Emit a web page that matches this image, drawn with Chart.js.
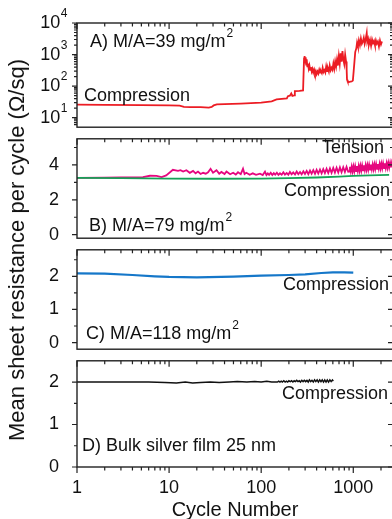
<!DOCTYPE html>
<html>
<head>
<meta charset="utf-8">
<script src="https://cdn.jsdelivr.net/npm/chart.js@4.4.0/dist/chart.umd.min.js"></script>
<style>
  html, body { margin: 0; padding: 0; background: #fff; }
  #wrap { position: relative; width: 392px; height: 519px; overflow: hidden; font-family: "Liberation Sans", Arial, sans-serif; }
  #wrap canvas { position: absolute; left: 0; }
  #ytitle {
    position: absolute; left: 17px; top: 250px;
    transform: translate(-50%, -50%) rotate(-90deg);
    white-space: nowrap; font-size: 22px; color: #111;
  }
</style>
</head>
<body>
<div id="wrap">
  <canvas id="panelA" width="400" height="148" style="top:0px"></canvas>
  <canvas id="panelB" width="400" height="141" style="top:118px"></canvas>
  <canvas id="panelC" width="400" height="141" style="top:229px"></canvas>
  <canvas id="panelD" width="400" height="185" style="top:340px"></canvas>
  <div id="ytitle">Mean sheet resistance per cycle (Ω/sq)</div>
</div>
<script>
// ---- data ----
const xTickValues = [1, 10, 100, 1000];
const aTickValues = [10, 100, 1000, 10000];
const aTickExps = ['1', '2', '3', '4'];
const bTickValues = [0, 2, 4];
const cTickValues = [0, 1, 2];
const dTickValues = [0, 1, 2];

// A) M/A=39 mg/m2, compression (red)
const aCycles = [1, 2, 5, 10, 13, 14.5, 17, 22, 27, 29,
  30.5, 33, 40, 60, 100, 130, 147, 190, 195, 205,
  212, 218, 228, 232, 260, 285, 292, 296, 300, 304,
  308, 312, 317, 322, 328, 334, 340, 347, 354, 361,
  368, 376, 384, 392, 400, 409, 418, 427, 436, 445,
  455, 465, 475, 486, 497, 508, 519, 531, 543, 555,
  568, 581, 594, 608, 622, 636, 651, 666, 681, 697,
  713, 729, 746, 763, 780, 798, 816, 835, 847, 855,
  870, 900, 930, 960, 990, 1010, 1030, 1050, 1080, 1100,
  1125, 1150, 1180, 1210, 1240, 1270, 1300, 1330, 1360, 1400,
  1420, 1450, 1480, 1520, 1560, 1600, 1640, 1680, 1720, 1760,
  1800, 1850, 1900, 1950, 2000, 2050];
const aValues = [26, 25.5, 25, 24.5, 24, 22, 21.5, 21.5, 21, 22,
  24.5, 26.5, 27, 28, 30, 33, 38, 41, 48, 50,
  59, 49, 51, 70, 71, 73, 750, 900, 560, 820,
  480, 700, 420, 520, 360, 450, 330, 400, 290, 350,
  270, 330, 250, 300, 240, 290, 250, 330, 270, 300,
  260, 380, 280, 320, 270, 420, 300, 360, 290, 450,
  320, 380, 330, 520, 360, 600, 420, 700, 450, 900,
  520, 1100, 600, 1300, 700, 500, 1000, 600, 350, 160,
  140, 135, 138, 140, 150, 300, 600, 1200, 1600, 2400,
  1800, 2800, 2000, 3200, 2200, 2600, 3400, 2200, 2900, 4800,
  2500, 3100, 2100, 2900, 1900, 3000, 2300, 2700, 2000, 2800,
  2200, 2600, 1800, 2800, 2100, 2600];

// B) M/A=79 mg/m2, tension (magenta)
const bTensionCycles = [1, 2, 3, 4.5, 5.2, 6.2, 7.3, 8.3, 9.3, 11,
  12.5, 13.3, 14.2, 15.4, 16.8, 18.2, 19.4, 20.6, 22, 23.4,
  25, 26.5, 28.2, 30, 32.7, 35, 37, 40, 42, 46,
  49.6, 53, 56, 60, 63.5, 66, 69, 75, 81, 88,
  97, 104, 110, 114, 118, 122, 127, 132, 137, 142,
  148, 154, 160, 167, 174, 181, 189, 197, 205, 214,
  223, 233, 243, 253, 264, 275, 287, 299, 312, 325,
  339, 353, 368, 384, 400, 417, 435, 453, 472, 492,
  513, 535, 558, 581, 606, 632, 659, 687, 716, 746,
  778, 811, 845, 881, 900, 920, 940, 961, 982, 1004,
  1026, 1049, 1072, 1096, 1120, 1145, 1170, 1196, 1222, 1249,
  1277, 1305, 1334, 1363, 1393, 1424, 1455, 1487, 1520, 1554,
  1588, 1623, 1659, 1696, 1733, 1771, 1810, 1850, 1891, 1933,
  1976, 2019, 2064, 2109, 2156, 2203, 2252, 2302, 2353, 2404,
  2457, 2512, 2567, 2624, 2700];
const bTensionValues = [3.26, 3.27, 3.28, 3.29, 3.30, 3.38, 3.37, 3.30, 3.40, 3.72,
  3.66, 3.70, 3.62, 3.70, 3.55, 3.66, 3.52, 3.62, 3.48, 3.55,
  3.50, 3.58, 3.78, 3.55, 3.70, 3.50, 3.60, 3.48, 3.62, 3.47,
  3.55, 3.45, 3.58, 3.47, 3.78, 3.48, 3.55, 3.44, 3.52, 3.43,
  3.50, 3.42, 3.62, 3.42, 3.52, 3.43, 3.55, 3.42, 3.53, 3.44,
  3.56, 3.43, 3.52, 3.44, 3.58, 3.45, 3.54, 3.44, 3.60, 3.46,
  3.57, 3.45, 3.62, 3.47, 3.60, 3.46, 3.64, 3.48, 3.66, 3.47,
  3.68, 3.50, 3.70, 3.49, 3.72, 3.51, 3.74, 3.52, 3.76, 3.53,
  3.78, 3.54, 3.80, 3.55, 3.83, 3.56, 3.84, 3.57, 3.86, 3.58,
  3.87, 3.60, 3.89, 3.61, 3.62, 3.90, 3.63, 3.91, 3.63, 3.92,
  3.64, 3.93, 3.65, 3.94, 3.66, 3.95, 3.67, 3.96, 3.68, 3.97,
  3.69, 3.98, 3.71, 3.99, 3.72, 4.00, 3.73, 4.01, 3.74, 4.02,
  3.75, 4.03, 3.76, 4.04, 3.77, 4.05, 3.78, 4.06, 3.79, 4.07,
  3.80, 4.08, 3.81, 4.09, 3.82, 4.10, 3.83, 4.11, 3.84, 4.12,
  3.85, 4.13, 3.86, 4.14, 3.87];

// B) compression (green)
const bCompCycles = [1, 3, 10, 30, 100, 200, 400, 700, 1000, 1500, 2450];
const bCompValues = [3.26, 3.25, 3.22, 3.21, 3.22, 3.24, 3.28, 3.33, 3.37, 3.40, 3.43];

// C) M/A=118 mg/m2, compression (blue)
const cCycles = [1, 2, 4, 7, 10, 20, 50, 100, 200, 300, 450, 600, 800, 1000];
const cValues = [2.09, 2.08, 2.04, 2.00, 1.98, 1.97, 1.99, 2.02, 2.04, 2.06, 2.10, 2.12, 2.12, 2.11];

// D) bulk silver film 25 nm, compression (black)
const dCycles = [1, 3, 6, 9, 12, 15, 18, 22, 28, 35,
  45, 55, 70, 85, 100, 115, 130, 150, 155, 160,
  165, 170, 176, 182, 188, 194, 200, 207, 214, 221,
  228, 235, 243, 251, 259, 267, 276, 285, 294, 304,
  314, 324, 334, 345, 356, 368, 380, 392, 405, 418,
  432, 446, 460, 475, 490, 506, 522, 539, 557, 575,
  594, 607];
const dValues = [2.00, 2.00, 2.00, 1.99, 1.98, 2.00, 1.98, 1.99, 2.00, 1.99,
  2.00, 2.01, 2.00, 2.01, 2.00, 2.02, 2.00, 2.00, 2.02, 2.00,
  2.02, 2.00, 2.03, 2.00, 2.02, 2.00, 2.03, 2.01, 2.03, 2.00,
  2.03, 2.01, 2.04, 2.01, 2.03, 2.00, 2.04, 2.01, 2.04, 2.01,
  2.04, 2.00, 2.05, 2.01, 2.04, 2.00, 2.05, 2.01, 2.05, 2.00,
  2.05, 2.01, 2.05, 2.00, 2.05, 2.00, 2.05, 2.00, 2.05, 2.01,
  2.05, 2.02];

// ---- drawing ----
const FONT = '"Liberation Sans", Arial, sans-serif';
Chart.defaults.font.family = FONT;
Chart.defaults.color = '#111';

function pts(xs, ys) {
  return xs.map((x, i) => ({ x: x, y: ys[i] }));
}

function line(xs, ys, color, width) {
  return {
    data: pts(xs, ys), borderColor: color, borderWidth: width,
    pointRadius: 0, tension: 0, fill: false
  };
}

const xMinor = [];
[1, 10, 100, 1000].forEach(d => {
  for (let m = 2; m <= 9; m++) if (d * m <= 2700) xMinor.push(d * m);
});
const aMinor = [];
[1, 10, 100, 1000].forEach(d => {
  for (let m = 2; m <= 9; m++) if (d * m >= 5) aMinor.push(d * m);
});

// frame, tick marks and text notes for one panel
function framePlugin(opt) {
  return {
    id: 'frame' + opt.name,
    afterDraw(chart) {
      const ctx = chart.ctx;
      const a = chart.chartArea;
      const xs = chart.scales.x, ys = chart.scales.y;
      ctx.save();
      ctx.strokeStyle = '#222';
      ctx.lineWidth = 1.4;
      ctx.strokeRect(a.left, a.top, a.right - a.left, a.bottom - a.top);
      ctx.lineWidth = 1.2;
      ctx.beginPath();
      const vtick = (px, y0, len) => { ctx.moveTo(px, y0); ctx.lineTo(px, y0 + len); };
      xTickValues.forEach(v => {
        const px = xs.getPixelForValue(v);
        vtick(px, a.top, 6);
        if (opt.bottomTicks) vtick(px, a.bottom, 6);
      });
      xMinor.forEach(v => {
        const px = xs.getPixelForValue(v);
        vtick(px, a.top, 3.5);
        if (opt.bottomTicks) vtick(px, a.bottom, 3.5);
      });
      const htick = (py, len) => {
        ctx.moveTo(a.left - len, py); ctx.lineTo(a.left, py);
        ctx.moveTo(a.right - len, py); ctx.lineTo(a.right, py);
      };
      opt.yMajor.forEach(v => htick(ys.getPixelForValue(v), 5));
      opt.yMinor.forEach(v => {
        const py = ys.getPixelForValue(v);
        if (py > a.top + 0.5 && py < a.bottom - 0.5) htick(py, 3);
      });
      ctx.stroke();

      ctx.fillStyle = '#111';
      ctx.textBaseline = 'middle';
      if (opt.logLabels) {
        opt.yMajor.forEach((v, i) => {
          const py = ys.getPixelForValue(v);
          ctx.font = '18px ' + FONT;
          const w1 = ctx.measureText('10').width;
          ctx.font = '12px ' + FONT;
          const w2 = ctx.measureText(aTickExps[i]).width;
          const x0 = a.left - 10 - w1 - w2;
          ctx.font = '18px ' + FONT;
          ctx.textAlign = 'left';
          ctx.fillText('10', x0, py);
          ctx.font = '12px ' + FONT;
          ctx.fillText(aTickExps[i], x0 + w1 + 0.5, py - 9);
        });
      }
      ctx.textAlign = 'left';
      opt.notes.forEach(n => {
        const y = n.y - opt.top;
        ctx.font = '18px ' + FONT;
        ctx.fillText(n.text, n.x, y);
        if (n.sup) {
          const w = ctx.measureText(n.text).width;
          ctx.font = '12px ' + FONT;
          ctx.fillText(n.sup, n.x + w + 1, y - 8);
        }
      });
      ctx.restore();
    }
  };
}

function makePanel(opt) {
  const yScale = {
    type: opt.yType, min: opt.yMin, max: opt.yMax,
    grid: { display: false }, border: { display: false },
    afterBuildTicks: s => { s.ticks = opt.yMajor.map(v => ({ value: v })); },
    afterFit: s => { s.width = 77; },
    ticks: {
      font: { size: 18 }, color: '#111', padding: 10,
      callback: v => (opt.logLabels ? '' : String(v))
    }
  };
  const xScale = {
    type: 'logarithmic', min: 1, max: 2700, display: !!opt.showX,
    grid: { display: false }, border: { display: false },
    afterBuildTicks: s => { s.ticks = xTickValues.map(v => ({ value: v })); },
    afterFit: s => { if (opt.showX) s.height = 58; },
    ticks: {
      font: { size: 18 }, color: '#111', padding: 2,
      maxRotation: 0, autoSkip: false, callback: v => String(v)
    },
    title: {
      display: !!opt.showX, text: 'Cycle Number', color: '#111',
      font: { size: 20 }, padding: { top: 0, bottom: 3 }
    }
  };
  return new Chart(document.getElementById(opt.id), {
    type: 'line',
    data: { datasets: opt.datasets },
    options: {
      responsive: false, animation: false, events: [],
      layout: { padding: opt.padding },
      plugins: { legend: { display: false }, tooltip: { enabled: false } },
      scales: { x: xScale, y: yScale }
    },
    plugins: [framePlugin(opt)]
  });
}

makePanel({
  name: 'A', id: 'panelA', top: 0,
  yType: 'logarithmic', yMin: 5, yMax: 10000,
  yMajor: aTickValues, yMinor: aMinor, logLabels: true,
  padding: { top: 23, bottom: 15, left: 0, right: 7 },
  datasets: [line(aCycles, aValues, '#ec1c24', 1.8)],
  notes: [
    { text: 'A) M/A=39 mg/m', sup: '2', x: 90, y: 42 },
    { text: 'Compression', x: 84, y: 96 }
  ]
});

makePanel({
  name: 'B', id: 'panelB', top: 118,
  yType: 'linear', yMin: -0.2, yMax: 5.5,
  yMajor: bTickValues, yMinor: [1, 3, 5],
  padding: { top: 15, bottom: 15, left: 0, right: 7 },
  datasets: [
    line(bCompCycles, bCompValues, '#14a257', 1.8),
    line(bTensionCycles, bTensionValues, '#e6077f', 1.8)
  ],
  notes: [
    { text: 'Tension', x: 322, y: 148 },
    { text: 'Compression', x: 284, y: 191 },
    { text: 'B) M/A=79 mg/m', sup: '2', x: 89, y: 226 }
  ]
});

makePanel({
  name: 'C', id: 'panelC', top: 229,
  yType: 'linear', yMin: -0.2, yMax: 2.8,
  yMajor: cTickValues, yMinor: [0.5, 1.5, 2.5],
  padding: { top: 15, bottom: 15, left: 0, right: 7 },
  datasets: [line(cCycles, cValues, '#1577c9', 2.2)],
  notes: [
    { text: 'Compression', x: 283, y: 285 },
    { text: 'C) M/A=118 mg/m', sup: '2', x: 86, y: 334 }
  ]
});

makePanel({
  name: 'D', id: 'panelD', top: 340,
  yType: 'linear', yMin: 0, yMax: 2.5,
  yMajor: dTickValues, yMinor: [0.5, 1.5, 2.5], bottomTicks: true, showX: true,
  padding: { top: 15, bottom: 0, left: 0, right: 7 },
  datasets: [line(dCycles, dValues, '#111', 1.5)],
  notes: [
    { text: 'Compression', x: 282, y: 394 },
    { text: 'D) Bulk silver film 25 nm', x: 82, y: 446 }
  ]
});
</script>
</body>
</html>
